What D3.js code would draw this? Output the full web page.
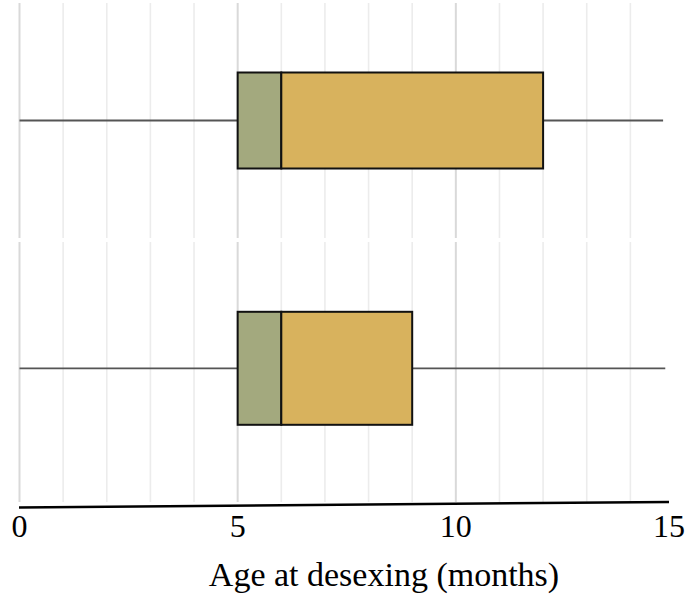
<!DOCTYPE html>
<html>
<head>
<meta charset="utf-8">
<script src="https://cdn.jsdelivr.net/npm/d3@7/dist/d3.min.js"></script>
<style>
  html, body { margin: 0; padding: 0; background: #fff; }
  svg { display: block; }
</style>
</head>
<body>
<script>
// ---- Data ----
const groups   = ["Group 1", "Group 2"];
const whiskLo  = [0, 0];
const q1       = [5, 5];
const median   = [6, 6];
const q3       = [12, 9];
const whiskHi  = [14.75, 14.8];
const tickVals = [0, 5, 10, 15];
const gridVals = d3.range(0, 15);
const xTitle   = "Age at desexing (months)";

// ---- Layout ----
const W = 685, H = 595;
const svg = d3.select("body").append("svg").attr("width", W).attr("height", H);

const x = d3.scaleLinear().domain([0, 15]).range([19.5, 674]);
const panels = d3.scaleOrdinal().domain(groups).range([[3, 238], [242, 502]]);
const centers = d3.scaleOrdinal().domain(groups).range([120.5, 368.3]);
const boxH = d3.scaleOrdinal().domain(groups).range([96, 113]);

const greenCol = "#a3a97e", goldCol = "#d8b25d";

// gridlines per panel
groups.forEach(g => {
  const [t, b] = panels(g);
  svg.append("g").selectAll("line").data(gridVals).join("line")
    .attr("x1", d => x(d)).attr("x2", d => x(d))
    .attr("y1", t).attr("y2", b)
    .attr("stroke", d => d % 5 === 0 ? "#d9d9d9" : "#ececec")
    .attr("stroke-width", d => d % 5 === 0 ? 2 : 1.6);
});

// boxes
const data = groups.map((g, i) => ({g, lo: whiskLo[i], q1: q1[i], med: median[i], q3: q3[i], hi: whiskHi[i]}));
const bx = svg.append("g").selectAll("g").data(data).join("g");

// whiskers
bx.append("line")
  .attr("x1", d => x(d.lo)).attr("x2", d => x(d.q1))
  .attr("y1", d => centers(d.g)).attr("y2", d => centers(d.g))
  .attr("stroke", "#555").attr("stroke-width", 1.8);
bx.append("line")
  .attr("x1", d => x(d.q3)).attr("x2", d => x(d.hi))
  .attr("y1", d => centers(d.g)).attr("y2", d => centers(d.g))
  .attr("stroke", "#555").attr("stroke-width", 1.8);

// lower part (q1 - median)
bx.append("rect")
  .attr("x", d => x(d.q1)).attr("width", d => x(d.med) - x(d.q1))
  .attr("y", d => centers(d.g) - boxH(d.g) / 2).attr("height", d => boxH(d.g))
  .attr("fill", greenCol).attr("stroke", "#111").attr("stroke-width", 2);
// upper part (median - q3)
bx.append("rect")
  .attr("x", d => x(d.med)).attr("width", d => x(d.q3) - x(d.med))
  .attr("y", d => centers(d.g) - boxH(d.g) / 2).attr("height", d => boxH(d.g))
  .attr("fill", goldCol).attr("stroke", "#111").attr("stroke-width", 2);

// axis baseline (slightly slanted as in reference)
svg.append("line")
  .attr("x1", x(0) - 0.5).attr("y1", 507.5)
  .attr("x2", x(15) - 5).attr("y2", 502)
  .attr("stroke", "#000").attr("stroke-width", 2.5);

// tick labels
svg.append("g").selectAll("text").data(tickVals).join("text")
  .attr("x", d => Math.min(x(d), W - 16))
  .attr("y", 536.5)
  .attr("text-anchor", "middle")
  .attr("font-family", "'Liberation Serif', 'Times New Roman', serif")
  .attr("font-size", 32)
  .attr("fill", "#000")
  .text(d => d);

// axis title
svg.append("text")
  .attr("x", 384).attr("y", 586)
  .attr("text-anchor", "middle")
  .attr("font-family", "'Liberation Serif', 'Times New Roman', serif")
  .attr("font-size", 34)
  .attr("fill", "#000")
  .text(xTitle);
</script>
</body>
</html>
